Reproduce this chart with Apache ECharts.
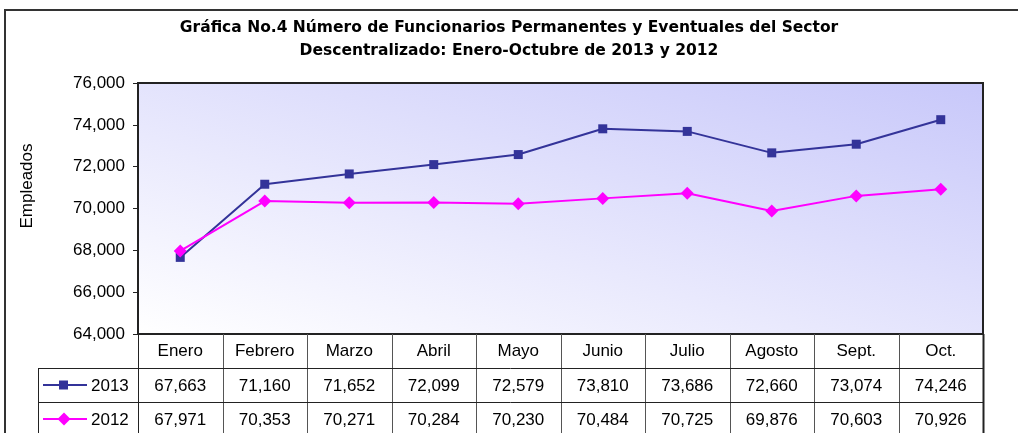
<!DOCTYPE html>
<html>
<head>
<meta charset="utf-8">
<script src="https://cdn.jsdelivr.net/npm/echarts@6/dist/echarts.min.js"></script>
<style>
  html, body { margin: 0; padding: 0; background: #fff; }
  #main { width: 1018px; height: 433px; }
</style>
</head>
<body>
<div id="main"></div>
<script>
var meses = ['Enero', 'Febrero', 'Marzo', 'Abril', 'Mayo', 'Junio', 'Julio', 'Agosto', 'Sept.', 'Oct.'];
var datos2013 = [67663, 71160, 71652, 72099, 72579, 73810, 73686, 72660, 73074, 74246];
var datos2012 = [67971, 70353, 70271, 70284, 70230, 70484, 70725, 69876, 70603, 70926];
var series_nombres = ['2013', '2012'];
var colores = ['#333399', '#ff00ff'];
var simbolos = ['rect', 'diamond'];

var gridLeft = 138, gridTop = 83, gridRight = 983, gridBottom = 334;
var filaAlto = 34;
var fuente = 'Arial, "Liberation Sans", sans-serif';

function miles(v) {
    return v.toString().replace(/\B(?=(\d{3})+(?!\d))/g, ',');
}

var chart = echarts.init(document.getElementById('main'));

// tabla de datos bajo el grafico
var graficos = [];
var anchoCelda = (gridRight - gridLeft) / meses.length;
var filas = [datos2013, datos2012];

// marco exterior
graficos.push({
    type: 'rect', shape: { x: 5, y: 10, width: 1040, height: 500 },
    style: { fill: 'none', stroke: '#333', lineWidth: 2 }, z: 0
});

// titulo del eje y
graficos.push({
    type: 'text', x: 27, y: 186, rotation: Math.PI / 2,
    style: { text: 'Empleados', fontSize: 17, fontFamily: fuente, fill: '#000', align: 'center', verticalAlign: 'middle' }
});

// lineas verticales de la tabla
for (var i = 0; i <= meses.length; i++) {
    var x = Math.round(gridLeft + i * anchoCelda) + 0.5;
    graficos.push({
        type: 'line', shape: { x1: x, y1: gridBottom, x2: x, y2: 440 },
        style: { stroke: (i == 0 || i == meses.length) ? '#222' : '#555', lineWidth: (i == meses.length) ? 2 : 1 }
    });
}
// lineas horizontales
for (var r = 1; r <= 3; r++) {
    var y = gridBottom + r * filaAlto + 0.5;
    graficos.push({
        type: 'line', shape: { x1: 38, y1: y, x2: gridRight, y2: y },
        style: { stroke: '#222', lineWidth: 1 }
    });
}
graficos.push({
    type: 'line', shape: { x1: 38.5, y1: gridBottom + filaAlto, x2: 38.5, y2: 440 },
    style: { stroke: '#222', lineWidth: 1 }
});

for (var s = 0; s < filas.length; s++) {
    var cy = gridBottom + filaAlto * (s + 1) + filaAlto / 2;
    // leyenda
    graficos.push({
        type: 'line', shape: { x1: 43, y1: cy, x2: 87, y2: cy },
        style: { stroke: colores[s], lineWidth: 2 }
    });
    if (s == 0) {
        graficos.push({
            type: 'rect', shape: { x: 59, y: cy - 4.5, width: 9, height: 9 },
            style: { fill: colores[s] }
        });
    } else {
        graficos.push({
            type: 'polygon', shape: { points: [[64, cy - 6.5], [70.5, cy], [64, cy + 6.5], [57.5, cy]] },
            style: { fill: colores[s] }
        });
    }
    graficos.push({
        type: 'text', x: 91, y: cy + 1,
        style: { text: series_nombres[s], fontSize: 17, fontFamily: fuente, fill: '#000', verticalAlign: 'middle' }
    });
    for (var j = 0; j < meses.length; j++) {
        graficos.push({
            type: 'text', x: gridLeft + (j + 0.5) * anchoCelda, y: cy + 1,
            style: {
                text: miles(filas[s][j]), fontSize: 17, fontFamily: fuente, fill: '#000',
                align: 'center', verticalAlign: 'middle'
            }
        });
    }
}

// degradado del fondo: blanco abajo-izquierda, lila arriba-derecha
var fondo = new echarts.graphic.LinearGradient(gridLeft, gridBottom, 275, -127, [
    { offset: 0, color: '#ffffff' },
    { offset: 1, color: '#c8c8fa' }
], true);

var option = {
    animation: false,
    backgroundColor: '#fff',
    title: {
        text: 'Gráfica No.4 Número de Funcionarios Permanentes y Eventuales del Sector\nDescentralizado: Enero-Octubre de 2013 y 2012',
        left: 'center',
        top: 11,
        textStyle: { fontSize: 15.5, fontWeight: 'bold', fontFamily: '"DejaVu Sans", sans-serif', color: '#000', lineHeight: 23 }
    },
    grid: {
        left: gridLeft, top: gridTop, right: 1018 - gridRight, bottom: 433 - gridBottom,
        show: true,
        borderColor: '#222',
        borderWidth: 2,
        backgroundColor: fondo
    },
    xAxis: {
        type: 'category',
        data: meses,
        boundaryGap: true,
        axisLine: { show: false },
        axisTick: { show: false },
        axisLabel: { fontSize: 17, fontFamily: fuente, color: '#000', margin: 9, interval: 0 }
    },
    yAxis: {
        type: 'value',
        min: 64000,
        max: 76000,
        interval: 2000,
        axisLine: { show: true, lineStyle: { color: '#222' } },
        axisTick: { show: true, length: 5, lineStyle: { color: '#222' } },
        splitLine: { show: false },
        axisLabel: {
            fontSize: 17, fontFamily: fuente, color: '#000', margin: 13,
            formatter: function (v) { return miles(v); }
        }
    },
    series: [
        {
            name: series_nombres[0], type: 'line', data: datos2013,
            symbol: simbolos[0], symbolSize: 9,
            lineStyle: { color: colores[0], width: 2 },
            itemStyle: { color: colores[0] }
        },
        {
            name: series_nombres[1], type: 'line', data: datos2012,
            symbol: simbolos[1], symbolSize: 13,
            lineStyle: { color: colores[1], width: 2 },
            itemStyle: { color: colores[1] }
        }
    ],
    graphic: graficos
};

chart.setOption(option);
</script>
</body>
</html>
